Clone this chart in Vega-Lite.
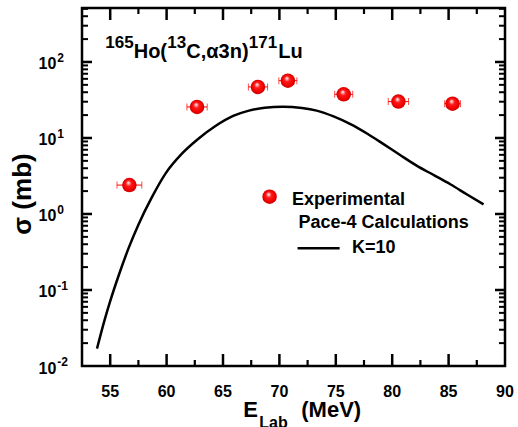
{
  "$schema": "https://vega.github.io/schema/vega-lite/v6.json",
  "width": 423,
  "height": 358,
  "autosize": {"type": "none"},
  "padding": {"left": 82, "top": 8, "right": 13, "bottom": 61},
  "background": "white",
  "config": {
    "view": {"stroke": "black", "strokeWidth": 2.5},
    "font": "Liberation Sans",
    "axis": {"disable": true}
  },
  "datasets": {
    "exp": [
      {"E": 56.7, "s": 2.4, "lo": 55.6, "hi": 57.8},
      {"E": 62.7, "s": 25.6, "lo": 61.8, "hi": 63.6},
      {"E": 68.1, "s": 47.0, "lo": 67.25, "hi": 68.95},
      {"E": 70.75, "s": 56.8, "lo": 69.95, "hi": 71.55},
      {"E": 75.7, "s": 37.5, "lo": 74.9, "hi": 76.5},
      {"E": 80.55, "s": 30.1, "lo": 79.65, "hi": 81.45},
      {"E": 85.35, "s": 28.3, "lo": 84.65, "hi": 86.05}
    ],
    "calc": [
      {"E": 53.83, "s": 0.0169},
      {"E": 54.5, "s": 0.0401},
      {"E": 55.0, "s": 0.0713},
      {"E": 55.75, "s": 0.155},
      {"E": 56.63, "s": 0.355},
      {"E": 57.5, "s": 0.724},
      {"E": 58.7, "s": 1.667},
      {"E": 59.9, "s": 3.4},
      {"E": 61.4, "s": 6.31},
      {"E": 62.9, "s": 10.0},
      {"E": 64.3, "s": 14.26},
      {"E": 65.9, "s": 19.5},
      {"E": 67.3, "s": 22.9},
      {"E": 68.7, "s": 25.06},
      {"E": 70.3, "s": 25.8},
      {"E": 72.0, "s": 24.8},
      {"E": 73.3, "s": 22.9},
      {"E": 74.8, "s": 19.2},
      {"E": 76.3, "s": 15.2},
      {"E": 77.8, "s": 11.35},
      {"E": 79.2, "s": 8.36},
      {"E": 80.7, "s": 5.97},
      {"E": 82.2, "s": 4.3},
      {"E": 83.7, "s": 3.24},
      {"E": 85.15, "s": 2.46},
      {"E": 86.6, "s": 1.82},
      {"E": 88.1, "s": 1.34}
    ],
    "xlab": [{"v": 55}, {"v": 60}, {"v": 65}, {"v": 70}, {"v": 75}, {"v": 80}, {"v": 85}, {"v": 90}],
    "ylab": [{"v": 0.01, "e": "-2"}, {"v": 0.1, "e": "-1"}, {"v": 1, "e": "0"}, {"v": 10, "e": "1"}, {"v": 100, "e": "2"}],
    "xmaj": [{"v": 55}, {"v": 60}, {"v": 65}, {"v": 70}, {"v": 75}, {"v": 80}, {"v": 85}],
    "xmin": [{"v": 57.5}, {"v": 62.5}, {"v": 67.5}, {"v": 72.5}, {"v": 77.5}, {"v": 82.5}, {"v": 87.5}],
    "ymaj": [{"v": 0.1}, {"v": 1}, {"v": 10}, {"v": 100}],
    "ymin": [
      {"v": 0.02}, {"v": 0.03}, {"v": 0.04}, {"v": 0.05}, {"v": 0.06}, {"v": 0.07}, {"v": 0.08}, {"v": 0.09},
      {"v": 0.2}, {"v": 0.3}, {"v": 0.4}, {"v": 0.5}, {"v": 0.6}, {"v": 0.7}, {"v": 0.8}, {"v": 0.9},
      {"v": 2}, {"v": 3}, {"v": 4}, {"v": 5}, {"v": 6}, {"v": 7}, {"v": 8}, {"v": 9},
      {"v": 20}, {"v": 30}, {"v": 40}, {"v": 50}, {"v": 60}, {"v": 70}, {"v": 80}, {"v": 90},
      {"v": 200}, {"v": 300}, {"v": 400}, {"v": 500}
    ],
    "titleMain": [
      {"x": 57.083, "y": 111.9, "t": "Ho("},
      {"x": 61.746, "y": 111.9, "t": "C,α3n)"},
      {"x": 69.903, "y": 111.9, "t": "Lu"}
    ],
    "titleSup": [
      {"x": 54.566, "y": 152.8, "t": "165"},
      {"x": 60.062, "y": 152.8, "t": "13"},
      {"x": 67.287, "y": 152.8, "t": "171"}
    ],
    "legendText": [
      {"x": 71.12, "y": 1.313, "t": "Experimental"},
      {"x": 71.7, "y": 0.649, "t": "Pace-4 Calculations"},
      {"x": 76.44, "y": 0.304, "t": "K=10"}
    ],
    "legendDot": [{"x": 69.13, "y": 1.69}],
    "legendLine": [{"x": 71.61, "x2": 75.34, "y": 0.354}],
    "xTitleMain": [
      {"x": 66.8, "y": 0.002153, "t": "E"},
      {"x": 71.94, "y": 0.002153, "t": "(MeV)"}
    ],
    "xTitleSub": [{"x": 68.22, "y": 0.00153, "t": "Lab"}],
    "yTitle": [{"x": 47.3, "y": 1.833, "t": "σ (mb)"}]
  },
  "layer": [
    {
      "data": {"name": "calc"},
      "mark": {"type": "line", "color": "black", "strokeWidth": 2.5, "interpolate": "monotone"},
      "encoding": {
        "x": {"field": "E", "type": "quantitative", "scale": {"domain": [52.5, 90], "nice": false, "zero": false}, "axis": null},
        "y": {"field": "s", "type": "quantitative", "scale": {"type": "log", "domain": [0.01, 513], "nice": false}, "axis": null}
      }
    },
    {
      "data": {"name": "exp"},
      "mark": {"type": "errorbar", "color": "#ff0000", "thickness": 1, "ticks": {"size": 7, "thickness": 1, "color": "#ff0000"}},
      "encoding": {
        "x": {"field": "lo", "type": "quantitative", "scale": {"domain": [52.5, 90], "nice": false, "zero": false}, "axis": null},
        "x2": {"field": "hi"},
        "y": {"field": "s", "type": "quantitative", "scale": {"type": "log", "domain": [0.01, 513], "nice": false}, "axis": null}
      }
    },
    {
      "data": {"name": "exp"},
      "mark": {"type": "point", "shape": "circle", "filled": true, "size": 210, "strokeWidth": 0, "opacity": 1,
        "fill": {"gradient": "radial", "x1": 0.42, "y1": 0.32, "r1": 0, "x2": 0.5, "y2": 0.5, "r2": 0.5,
          "stops": [{"offset": 0, "color": "#ffffff"}, {"offset": 0.15, "color": "#ffb0b0"}, {"offset": 0.38, "color": "#ff1a1a"}, {"offset": 0.8, "color": "#f00000"}, {"offset": 1, "color": "#c80000"}]}},
      "encoding": {
        "x": {"field": "E", "type": "quantitative", "scale": {"domain": [52.5, 90], "nice": false, "zero": false}, "axis": null},
        "y": {"field": "s", "type": "quantitative", "scale": {"type": "log", "domain": [0.01, 513], "nice": false}, "axis": null}
      }
    },
    {
      "data": {"name": "legendDot"},
      "mark": {"type": "point", "shape": "circle", "filled": true, "size": 210, "strokeWidth": 0, "opacity": 1,
        "fill": {"gradient": "radial", "x1": 0.42, "y1": 0.32, "r1": 0, "x2": 0.5, "y2": 0.5, "r2": 0.5,
          "stops": [{"offset": 0, "color": "#ffffff"}, {"offset": 0.15, "color": "#ffb0b0"}, {"offset": 0.38, "color": "#ff1a1a"}, {"offset": 0.8, "color": "#f00000"}, {"offset": 1, "color": "#c80000"}]}},
      "encoding": {
        "x": {"field": "x", "type": "quantitative", "scale": {"domain": [52.5, 90], "nice": false, "zero": false}, "axis": null},
        "y": {"field": "y", "type": "quantitative", "scale": {"type": "log", "domain": [0.01, 513], "nice": false}, "axis": null}
      }
    },
    {
      "data": {"name": "legendLine"},
      "mark": {"type": "rule", "color": "black", "strokeWidth": 2.5},
      "encoding": {
        "x": {"field": "x", "type": "quantitative", "scale": {"domain": [52.5, 90], "nice": false, "zero": false}, "axis": null},
        "x2": {"field": "x2"},
        "y": {"field": "y", "type": "quantitative", "scale": {"type": "log", "domain": [0.01, 513], "nice": false}, "axis": null}
      }
    },
    {
      "data": {"name": "legendText"},
      "mark": {"type": "text", "align": "left", "baseline": "alphabetic", "fontSize": 18, "fontWeight": "bold", "font": "Liberation Sans", "color": "black"},
      "encoding": {
        "x": {"field": "x", "type": "quantitative", "scale": {"domain": [52.5, 90], "nice": false, "zero": false}, "axis": null},
        "y": {"field": "y", "type": "quantitative", "scale": {"type": "log", "domain": [0.01, 513], "nice": false}, "axis": null},
        "text": {"field": "t"}
      }
    },
    {
      "data": {"name": "titleMain"},
      "mark": {"type": "text", "align": "left", "baseline": "alphabetic", "fontSize": 20, "fontWeight": "bold", "font": "Liberation Sans", "color": "black"},
      "encoding": {
        "x": {"field": "x", "type": "quantitative", "scale": {"domain": [52.5, 90], "nice": false, "zero": false}, "axis": null},
        "y": {"field": "y", "type": "quantitative", "scale": {"type": "log", "domain": [0.01, 513], "nice": false}, "axis": null},
        "text": {"field": "t"}
      }
    },
    {
      "data": {"name": "titleSup"},
      "mark": {"type": "text", "align": "left", "baseline": "alphabetic", "fontSize": 17, "fontWeight": "bold", "font": "Liberation Sans", "color": "black"},
      "encoding": {
        "x": {"field": "x", "type": "quantitative", "scale": {"domain": [52.5, 90], "nice": false, "zero": false}, "axis": null},
        "y": {"field": "y", "type": "quantitative", "scale": {"type": "log", "domain": [0.01, 513], "nice": false}, "axis": null},
        "text": {"field": "t"}
      }
    },
    {
      "data": {"name": "xTitleMain"},
      "mark": {"type": "text", "align": "left", "baseline": "alphabetic", "fontSize": 22, "fontWeight": "bold", "font": "Liberation Sans", "color": "black"},
      "encoding": {
        "x": {"field": "x", "type": "quantitative", "scale": {"domain": [52.5, 90], "nice": false, "zero": false}, "axis": null},
        "y": {"field": "y", "type": "quantitative", "scale": {"type": "log", "domain": [0.01, 513], "nice": false}, "axis": null},
        "text": {"field": "t"}
      }
    },
    {
      "data": {"name": "xTitleSub"},
      "mark": {"type": "text", "align": "left", "baseline": "alphabetic", "fontSize": 16, "fontWeight": "bold", "font": "Liberation Sans", "color": "black"},
      "encoding": {
        "x": {"field": "x", "type": "quantitative", "scale": {"domain": [52.5, 90], "nice": false, "zero": false}, "axis": null},
        "y": {"field": "y", "type": "quantitative", "scale": {"type": "log", "domain": [0.01, 513], "nice": false}, "axis": null},
        "text": {"field": "t"}
      }
    },
    {
      "data": {"name": "yTitle"},
      "mark": {"type": "text", "align": "center", "baseline": "middle", "angle": 270, "fontSize": 26, "fontWeight": "bold", "font": "Liberation Sans", "color": "black"},
      "encoding": {
        "x": {"field": "x", "type": "quantitative", "scale": {"domain": [52.5, 90], "nice": false, "zero": false}, "axis": null},
        "y": {"field": "y", "type": "quantitative", "scale": {"type": "log", "domain": [0.01, 513], "nice": false}, "axis": null},
        "text": {"field": "t"}
      }
    },
    {
      "data": {"name": "xlab"},
      "mark": {"type": "text", "align": "center", "baseline": "alphabetic", "dy": 30.5, "fontSize": 16, "fontWeight": "bold", "font": "Liberation Sans", "color": "black"},
      "encoding": {
        "x": {"field": "v", "type": "quantitative", "scale": {"domain": [52.5, 90], "nice": false, "zero": false}, "axis": null},
        "y": {"value": "height"},
        "text": {"field": "v", "type": "quantitative", "format": "d"}
      }
    },
    {
      "data": {"name": "ylab"},
      "mark": {"type": "text", "align": "right", "baseline": "alphabetic", "dx": -25.7, "dy": 7.5, "fontSize": 16, "fontWeight": "bold", "font": "Liberation Sans", "color": "black"},
      "encoding": {
        "x": {"datum": 52.5, "type": "quantitative", "scale": {"domain": [52.5, 90], "nice": false, "zero": false}, "axis": null},
        "y": {"field": "v", "type": "quantitative", "scale": {"type": "log", "domain": [0.01, 513], "nice": false}, "axis": null},
        "text": {"value": "10"}
      }
    },
    {
      "data": {"name": "ylab"},
      "mark": {"type": "text", "align": "left", "baseline": "alphabetic", "dx": -24.7, "dy": 0, "fontSize": 12, "fontWeight": "bold", "font": "Liberation Sans", "color": "black"},
      "encoding": {
        "x": {"datum": 52.5, "type": "quantitative", "scale": {"domain": [52.5, 90], "nice": false, "zero": false}, "axis": null},
        "y": {"field": "v", "type": "quantitative", "scale": {"type": "log", "domain": [0.01, 513], "nice": false}, "axis": null},
        "text": {"field": "e"}
      }
    },
    {
      "data": {"name": "xmaj"},
      "mark": {"type": "tick", "orient": "vertical", "size": 12, "thickness": 2.5, "yOffset": -6, "color": "black", "opacity": 1},
      "encoding": {
        "x": {"field": "v", "type": "quantitative", "scale": {"domain": [52.5, 90], "nice": false, "zero": false}, "axis": null},
        "y": {"value": "height"}
      }
    },
    {
      "data": {"name": "xmin"},
      "mark": {"type": "tick", "orient": "vertical", "size": 6, "thickness": 2.2, "yOffset": -3, "color": "black", "opacity": 1},
      "encoding": {
        "x": {"field": "v", "type": "quantitative", "scale": {"domain": [52.5, 90], "nice": false, "zero": false}, "axis": null},
        "y": {"value": "height"}
      }
    },
    {
      "data": {"name": "xmaj"},
      "mark": {"type": "tick", "orient": "vertical", "size": 12, "thickness": 2.5, "yOffset": 6, "color": "black", "opacity": 1},
      "encoding": {
        "x": {"field": "v", "type": "quantitative", "scale": {"domain": [52.5, 90], "nice": false, "zero": false}, "axis": null},
        "y": {"datum": 513, "type": "quantitative", "scale": {"type": "log", "domain": [0.01, 513], "nice": false}, "axis": null}
      }
    },
    {
      "data": {"name": "xmin"},
      "mark": {"type": "tick", "orient": "vertical", "size": 6, "thickness": 2.2, "yOffset": 3, "color": "black", "opacity": 1},
      "encoding": {
        "x": {"field": "v", "type": "quantitative", "scale": {"domain": [52.5, 90], "nice": false, "zero": false}, "axis": null},
        "y": {"datum": 513, "type": "quantitative", "scale": {"type": "log", "domain": [0.01, 513], "nice": false}, "axis": null}
      }
    },
    {
      "data": {"name": "ymaj"},
      "mark": {"type": "tick", "orient": "horizontal", "size": 10, "thickness": 2.5, "xOffset": 5, "color": "black", "opacity": 1},
      "encoding": {
        "y": {"field": "v", "type": "quantitative", "scale": {"type": "log", "domain": [0.01, 513], "nice": false}, "axis": null},
        "x": {"datum": 52.5, "type": "quantitative", "scale": {"domain": [52.5, 90], "nice": false, "zero": false}, "axis": null}
      }
    },
    {
      "data": {"name": "ymin"},
      "mark": {"type": "tick", "orient": "horizontal", "size": 6, "thickness": 2, "xOffset": 3, "color": "black", "opacity": 1},
      "encoding": {
        "y": {"field": "v", "type": "quantitative", "scale": {"type": "log", "domain": [0.01, 513], "nice": false}, "axis": null},
        "x": {"datum": 52.5, "type": "quantitative", "scale": {"domain": [52.5, 90], "nice": false, "zero": false}, "axis": null}
      }
    },
    {
      "data": {"name": "ymaj"},
      "mark": {"type": "tick", "orient": "horizontal", "size": 10, "thickness": 2.5, "xOffset": -5, "color": "black", "opacity": 1},
      "encoding": {
        "y": {"field": "v", "type": "quantitative", "scale": {"type": "log", "domain": [0.01, 513], "nice": false}, "axis": null},
        "x": {"value": "width"}
      }
    },
    {
      "data": {"name": "ymin"},
      "mark": {"type": "tick", "orient": "horizontal", "size": 6, "thickness": 2, "xOffset": -3, "color": "black", "opacity": 1},
      "encoding": {
        "y": {"field": "v", "type": "quantitative", "scale": {"type": "log", "domain": [0.01, 513], "nice": false}, "axis": null},
        "x": {"value": "width"}
      }
    }
  ]
}
